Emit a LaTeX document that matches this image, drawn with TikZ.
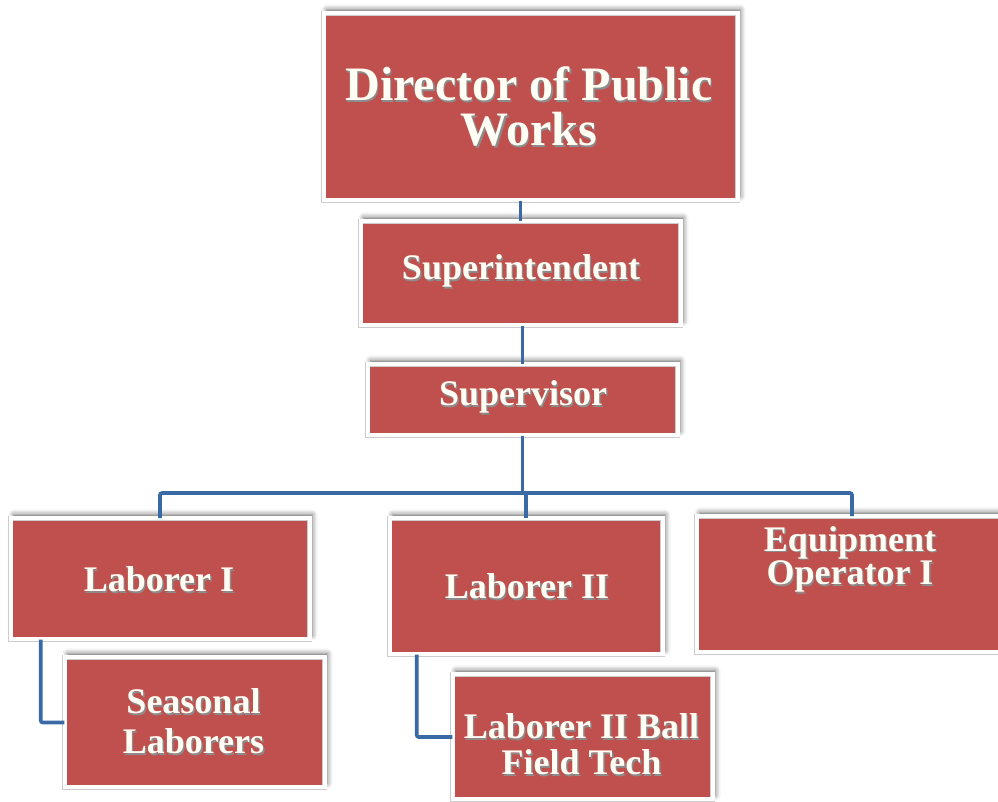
\documentclass[tikz,border=0pt]{standalone}
\usepackage{fontspec}
\setmainfont{Liberation Serif}
\usetikzlibrary{shadows.blur}
\definecolor{boxred}{RGB}{192,80,77}
\definecolor{linkblue}{RGB}{58,106,166}
\definecolor{labelwhite}{RGB}{255,253,244}
% text with a soft dark drop shadow
\newcommand{\txsh}[1]{\leavevmode\rlap{\kern1.4pt\raisebox{-1.4pt}{\textcolor{black!45}{#1}}}#1}
\tikzset{
  orgbox/.style={rectangle, fill=boxred, draw=gray!40, double=white,
    double distance=4pt, line width=0.5pt, inner sep=0pt,
    blur shadow={shadow xshift=3pt, shadow yshift=4pt, shadow blur radius=5pt, shadow opacity=60}},
  lbl/.style={text=labelwhite, align=center, inner sep=0pt, font=\bfseries\fontsize{36}{38}\selectfont},
  conn/.style={draw=linkblue, line width=3.6pt, rounded corners=2pt}
}
\begin{document}
\begin{tikzpicture}[x=1pt, y=1pt]
\useasboundingbox (0,0) rectangle (998,802);
\clip (0,0) rectangle (998,802);

% boxes
\node[orgbox, minimum width=414pt, minimum height=187pt] (dir) at (530.5,695) {};
\node[orgbox, minimum width=320pt, minimum height=104pt] (sup) at (520.5,528.5) {};
\node[orgbox, minimum width=310pt, minimum height=71pt]  (spv) at (522.5,402) {};
\node[orgbox, minimum width=299pt, minimum height=121pt] (l1)  at (160,223) {};
\node[orgbox, minimum width=273pt, minimum height=136pt] (l2)  at (526,215.5) {};
\node[orgbox, minimum width=311pt, minimum height=136pt] (eq)  at (852,217.5) {};
\node[orgbox, minimum width=260pt, minimum height=130pt] (sea) at (194.5,79.5) {};
\node[orgbox, minimum width=260pt, minimum height=125pt] (ball) at (582.5,65) {};

% labels
\node[lbl, font=\bfseries\fontsize{48}{45}\selectfont] (dirt) at (529,694.5) {\txsh{Director of Public}\\\txsh{Works}};
\node[lbl] (supt) at (521,530) {\txsh{Superintendent}};
\node[lbl] (spvt) at (523,404) {\txsh{Supervisor}};
\node[lbl] (l1t) at (159,222) {\txsh{Laborer I}};
\node[lbl] (l2t) at (527,215) {\txsh{Laborer II}};
\node[lbl, font=\bfseries\fontsize{36}{32}\selectfont] (eqt) at (850,242) {\txsh{Equipment}\\\txsh{Operator I}};
\node[lbl, font=\bfseries\fontsize{36}{40}\selectfont] (seat) at (193.5,80) {\txsh{Seasonal}\\\txsh{Laborers}};
\node[lbl, font=\bfseries\fontsize{36}{36}\selectfont] (ballt) at (581.5,57) {\txsh{Laborer II Ball}\\\txsh{Field Tech}};

% connectors
\coordinate (bus) at (0,309);
\draw[conn] (sup.north |- dir.south) -- (sup.north);
\draw[conn] (spv.north |- sup.south) -- (spv.north);
\draw[conn] (spv.south) -- (spv.south |- bus);
\draw[conn] (l1.north) |- (eq.north |- bus) -- (eq.north);
\draw[conn] (l2.north |- bus) -- (l2.north);
\draw[conn] ([xshift=30.5pt]l1.south west) |- (sea.west);
\draw[conn] ([xshift=27.5pt]l2.south west) |- (ball.west);
\end{tikzpicture}
\end{document}
